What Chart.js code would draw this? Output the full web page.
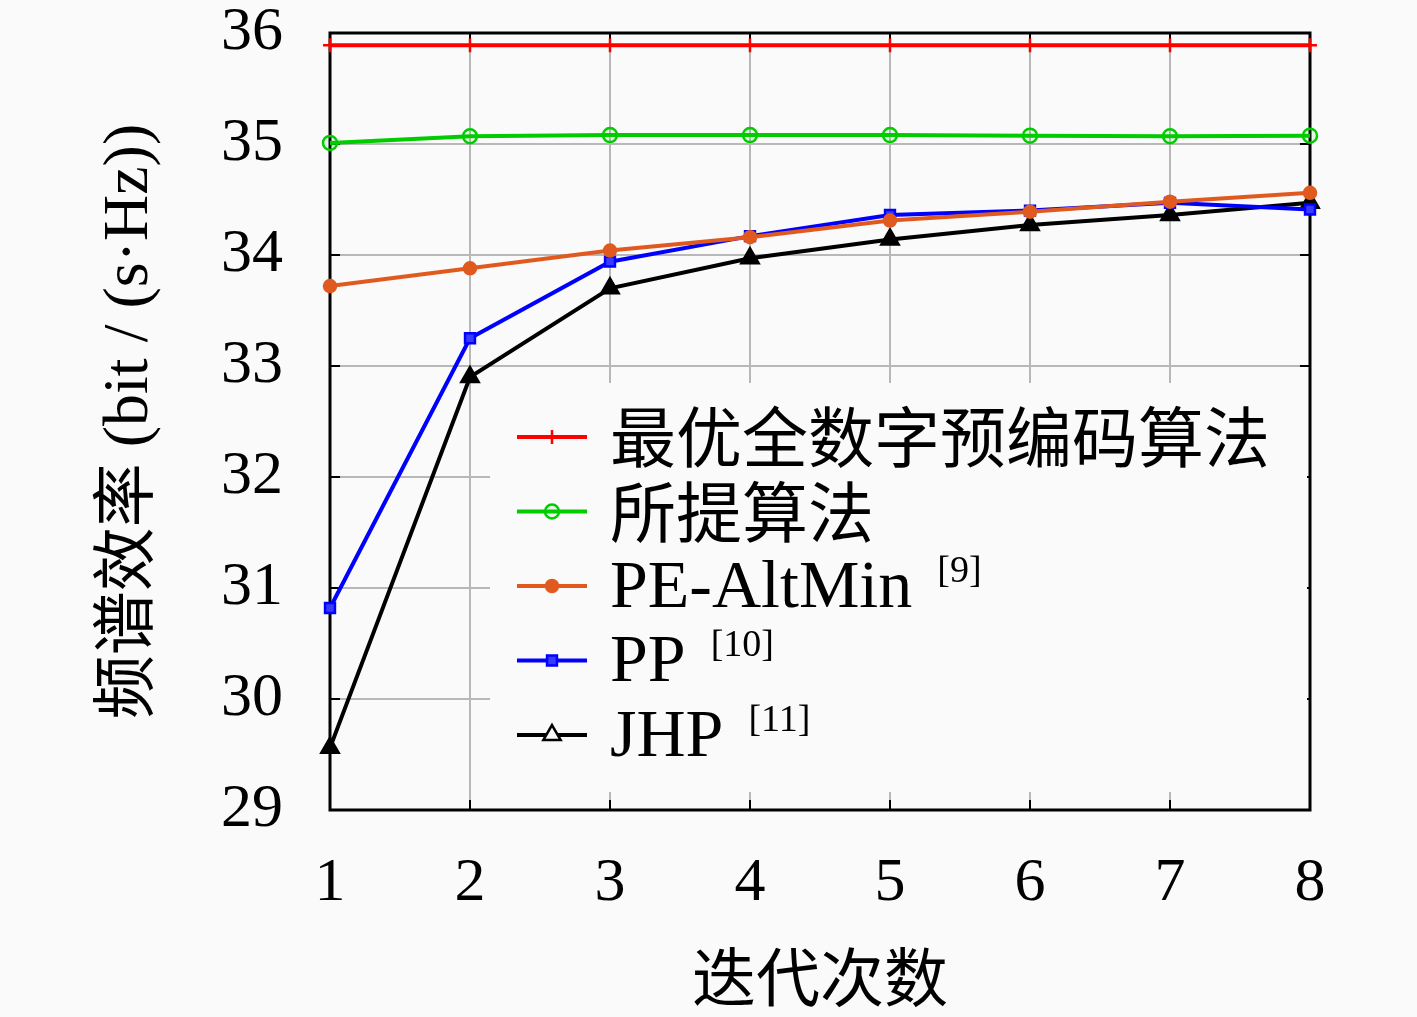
<!DOCTYPE html>
<html lang="zh">
<head>
  <meta charset="UTF-8">
  <title>频谱效率 vs 迭代次数</title>
  <script src="https://cdn.jsdelivr.net/npm/chart.js"></script>
  <style>
    html, body { margin: 0; padding: 0; background: #fafafa; }
    .chart-box { width: 1417px; height: 1017px; }
  </style>
</head>
<body>
<div class="chart-box">
  <canvas id="seChart"></canvas>
</div>
<script>
// 迭代次数
const iterations = [1, 2, 3, 4, 5, 6, 7, 8];
const yTicks = [29, 30, 31, 32, 33, 34, 35, 36];

// 各算法频谱效率 (bit/(s·Hz))
const optimalDigital = [35.89, 35.89, 35.89, 35.89, 35.89, 35.89, 35.89, 35.89];
const proposed = [35.01, 35.07, 35.08, 35.08, 35.08, 35.075, 35.07, 35.075];
const peAltMin = [33.72, 33.88, 34.04, 34.16, 34.31, 34.39, 34.48, 34.56];
const pp = [30.82, 33.25, 33.94, 34.17, 34.36, 34.40, 34.47, 34.41];
const jhp = [29.56, 32.90, 33.70, 33.97, 34.14, 34.27, 34.36, 34.47];

const legendNames = ["最优全数字预编码算法", "所提算法", "PE-AltMin", "PP", "JHP"];
const legendRefs = ["", "", "[9]", "[10]", "[11]"];

const SERIF = "'Liberation Serif', 'Noto Sans CJK SC', serif";
const CJK = "'Noto Sans CJK SC', 'Liberation Serif', sans-serif";

function series(label, data, color, style, radius, fill) {
  return {
    label: label,
    data: data.map((v, i) => ({ x: iterations[i], y: v })),
    borderColor: color,
    backgroundColor: fill,
    pointBackgroundColor: fill,
    pointBorderColor: color,
    pointStyle: style,
    pointRadius: radius,
    pointBorderWidth: 2.5,
    borderWidth: 4,
    tension: 0,
    clip: false
  };
}

const datasets = [
  series(legendNames[0], optimalDigital, "#ff0000", "cross", 7, "#ff0000"),
  series(legendNames[1], proposed, "#00cc00", "circle", 7, "rgba(0,204,0,0.08)"),
  series(legendNames[2], peAltMin, "#e05a20", "circle", 6, "#e05a20"),
  series(legendNames[3], pp, "#0000ff", "rect", 7, "#3a3aff"),
  series(legendNames[4], jhp, "#000000", "triangle", 10, "#000000")
];

// 坐标框、内向刻度
const framePlugin = {
  id: "frame",
  beforeDatasetsDraw(chart) {
    const { ctx, chartArea: a, scales } = chart;
    ctx.save();
    ctx.strokeStyle = "#000";
    ctx.lineWidth = 2;
    const t = 10;
    iterations.forEach(v => {
      const x = scales.x.getPixelForValue(v);
      ctx.beginPath();
      ctx.moveTo(x, a.bottom); ctx.lineTo(x, a.bottom - t);
      ctx.moveTo(x, a.top); ctx.lineTo(x, a.top + t);
      ctx.stroke();
    });
    yTicks.forEach(v => {
      const y = scales.y.getPixelForValue(v);
      ctx.beginPath();
      ctx.moveTo(a.left, y); ctx.lineTo(a.left + t, y);
      ctx.moveTo(a.right, y); ctx.lineTo(a.right - t, y);
      ctx.stroke();
    });
    ctx.lineWidth = 3;
    ctx.strokeRect(a.left, a.top, a.right - a.left, a.bottom - a.top);
    ctx.restore();
  }
};

// 图例（线段 + 标记 + 上标文献号）
const legendPlugin = {
  id: "lineLegend",
  afterDatasetsDraw(chart) {
    const { ctx, chartArea: a } = chart;
    const boxL = a.left + 160, boxT = a.top + 350, boxR = a.right - 3, boxB = a.top + 759;
    ctx.save();
    ctx.fillStyle = "#fafafa";
    ctx.fillRect(boxL, boxT, boxR - boxL, boxB - boxT);
    const rowY0 = a.top + 404, rowH = 74.5;
    chart.data.datasets.forEach((ds, i) => {
      const y = rowY0 + i * rowH;
      ctx.strokeStyle = ds.borderColor;
      ctx.lineWidth = 4;
      ctx.beginPath();
      ctx.moveTo(a.left + 187, y); ctx.lineTo(a.left + 257, y);
      ctx.stroke();
      ctx.lineWidth = 2.5;
      ctx.strokeStyle = ds.pointBorderColor;
      ctx.fillStyle = i === 4 ? "#fafafa" : ds.pointBackgroundColor;
      Chart.helpers.drawPoint(ctx, { pointStyle: ds.pointStyle, radius: ds.pointRadius, borderWidth: 2.5, rotation: 0 }, a.left + 222, y);
      ctx.fillStyle = "#000";
      ctx.textBaseline = "middle";
      ctx.textAlign = "left";
      const name = legendNames[i];
      const isCjk = /[\u4e00-\u9fff]/.test(name);
      ctx.font = isCjk ? "66px " + CJK : "68px " + SERIF;
      ctx.fillText(name, a.left + 280, y + (isCjk ? 0 : 3));
      if (legendRefs[i]) {
        const w = ctx.measureText(name + " ").width;
        ctx.font = "38px " + SERIF;
        ctx.fillText(legendRefs[i], a.left + 280 + w + 8, y - 14);
      }
    });
    ctx.restore();
  }
};

new Chart(document.getElementById("seChart"), {
  type: "line",
  data: { datasets: datasets },
  options: {
    responsive: true,
    maintainAspectRatio: false,
    animation: false,
    layout: { padding: { top: 33, right: 107, left: 0, bottom: 0 } },
    plugins: {
      legend: { display: false },
      tooltip: { enabled: false }
    },
    scales: {
      x: {
        type: "linear",
        min: 1,
        max: 8,
        afterBuildTicks: s => { s.ticks = iterations.map(v => ({ value: v })); },
        afterFit: s => { s.height = 207; },
        grid: { color: "#b8b8b8", lineWidth: 2, drawTicks: true, tickLength: 34, tickColor: "rgba(0,0,0,0)" },
        border: { display: false },
        ticks: { color: "#000", font: { family: SERIF, size: 62 }, padding: 3 },
        title: {
          display: true,
          text: "迭代次数",
          color: "#000",
          font: { family: CJK, size: 64 },
          padding: { top: 0, bottom: 2 }
        }
      },
      y: {
        min: 29,
        max: 36,
        afterBuildTicks: s => { s.ticks = yTicks.map(v => ({ value: v })); },
        afterFit: s => { s.width = 330; },
        grid: { color: "#b8b8b8", lineWidth: 2, drawTicks: true, tickLength: 47, tickColor: "rgba(0,0,0,0)" },
        border: { display: false },
        ticks: { color: "#000", font: { family: SERIF, size: 62, lineHeight: 1 }, padding: 0 },
        title: {
          display: true,
          text: "频谱效率 (bit / (s·Hz))",
          color: "#000",
          font: { family: SERIF, size: 64 },
          padding: { top: 92, bottom: 0 }
        }
      }
    }
  },
  plugins: [framePlugin, legendPlugin]
});
</script>
</body>
</html>
